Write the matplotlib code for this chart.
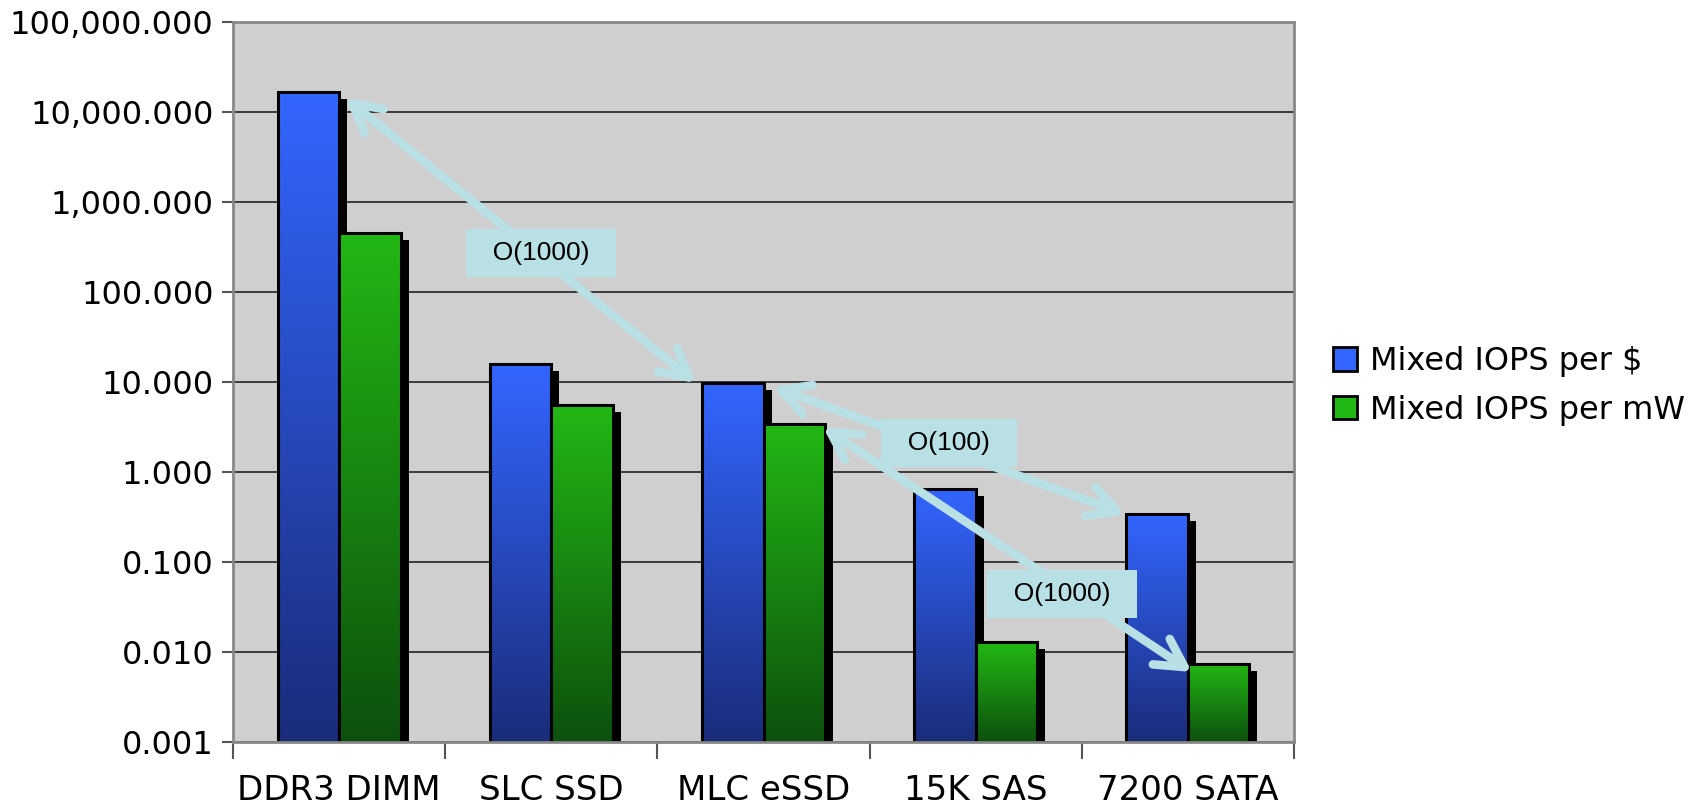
import numpy as np
import matplotlib
matplotlib.use("Agg")
import matplotlib.pyplot as plt
from matplotlib import transforms
from matplotlib.patches import Rectangle, Patch
from matplotlib.ticker import FixedLocator, FuncFormatter

# ---------------- data ----------------
categories = ["DDR3 DIMM", "SLC SSD", "MLC eSSD", "15K SAS", "7200 SATA"]
series_names = ["Mixed IOPS per $", "Mixed IOPS per mW"]
iops_per_dollar = [16500, 15.8, 9.8, 0.65, 0.34]
iops_per_mw = [455, 5.5, 3.38, 0.0129, 0.0074]
y_ticks = [0.001, 0.01, 0.1, 1, 10, 100, 1000, 10000, 100000]

# comparison arrows (category position, value)
arrow_start_x = [0.03, 2.045, 2.28]
arrow_start_y = [14400, 8.8, 3.16]
arrow_end_x = [1.682, 3.704, 4.019]
arrow_end_y = [9.75, 0.341, 0.006]
arrow_labels = ["O(1000)", "O(100)", "O(1000)"]
label_x = [0.951, 2.874, 3.407]
label_y = [271, 2.10, 0.0441]

# ---------------- styling ----------------
W, H, DPI = 1700, 807, 100
blue_top, blue_bot = "#3366FF", "#1A2C7A"
green_top, green_bot = "#22B814", "#0D500D"
arrow_color = "#B9E0E4"
bg = "#CFCFCF"
bar_w = 0.29

fig = plt.figure(figsize=(W / DPI, H / DPI), dpi=DPI)
ax = fig.add_axes([233 / W, 1 - 742 / H, (1294 - 233) / W, (742 - 22) / H])
ax.set_facecolor(bg)
ax.set_yscale("log")
ax.set_xlim(-0.5, len(categories) - 0.5)
ax.set_ylim(y_ticks[0], y_ticks[-1])

x = np.arange(len(categories))
shadow_off = transforms.ScaledTranslation(8 / DPI, -7 / DPI, fig.dpi_scale_trans)


def hex2rgb(h):
    return np.array(matplotlib.colors.to_rgb(h))


def draw_series(xpos, vals, top, bot, zbase):
    bars = ax.bar(xpos, np.array(vals) - y_ticks[0], bottom=y_ticks[0], width=bar_w,
                  facecolor="none", edgecolor="black", linewidth=2.2, zorder=zbase + 2)
    to_axes = ax.transData + ax.transAxes.inverted()
    t = np.linspace(0, 1, 256)[:, None, None]
    grad = (1 - t) * hex2rgb(top)[None, None, :] + t * hex2rgb(bot)[None, None, :]
    for r in bars:
        x0, y0 = r.get_x(), r.get_y()
        x1, y1 = x0 + r.get_width(), y0 + r.get_height()
        sh = Rectangle((x0, y0), r.get_width(), r.get_height(), facecolor="black",
                       edgecolor="none", transform=ax.transData + shadow_off, zorder=zbase)
        ax.add_patch(sh)
        (ax0, ay0), (ax1, ay1) = to_axes.transform([(x0, y0), (x1, y1)])
        ax.imshow(grad, extent=[ax0, ax1, ay0, ay1], transform=ax.transAxes,
                  aspect="auto", origin="upper", interpolation="bilinear",
                  zorder=zbase + 1)
    return bars


draw_series(x - bar_w / 2, iops_per_dollar, blue_top, blue_bot, 2)
draw_series(x + bar_w / 2, iops_per_mw, green_top, green_bot, 5)

ax.set_xlim(-0.5, len(categories) - 0.5)
ax.set_ylim(y_ticks[0], y_ticks[-1])

# arrows and labels
for sx, sy, ex, ey in zip(arrow_start_x, arrow_start_y, arrow_end_x, arrow_end_y):
    ax.annotate("", xy=(ex, ey), xytext=(sx, sy), xycoords="data", textcoords="data",
                arrowprops=dict(arrowstyle="<->,head_length=1.0,head_width=0.55",
                                mutation_scale=20, lw=6.2, color=arrow_color,
                                capstyle="round", joinstyle="round",
                                shrinkA=0, shrinkB=0),
                zorder=10, annotation_clip=False)
for lx, ly, lab in zip(label_x, label_y, arrow_labels):
    ax.text(lx, ly, "  " + lab + "  ", ha="center", va="center", fontsize=19,
            family="Liberation Sans", color="black", zorder=11,
            bbox=dict(boxstyle="square,pad=0.45", facecolor=arrow_color, edgecolor="none"))

# axes styling
ax.yaxis.set_major_locator(FixedLocator(y_ticks))
ax.yaxis.set_minor_locator(FixedLocator([]))
ax.yaxis.set_major_formatter(FuncFormatter(lambda v, p: f"{v:,.3f}"))
ax.tick_params(axis="y", which="major", length=8, width=1.5, color="#555555",
               labelsize=23, pad=6)
ax.set_xticks(x)
ax.set_xticklabels(categories)
ax.set_xticks(np.arange(-0.5, len(categories)), minor=True)
ax.tick_params(axis="x", which="major", length=0, labelsize=24.5, pad=23)
ax.tick_params(axis="x", which="minor", length=12, width=1.5, color="#555555")
ax.grid(axis="y", which="major", color="#222222", linewidth=1.2, zorder=0.5)
ax.set_axisbelow(True)
for s in ax.spines.values():
    s.set_color("#888888")
    s.set_linewidth(2)
    s.set_zorder(12)

handles = [Patch(facecolor=blue_top, edgecolor="black", linewidth=2),
           Patch(facecolor=green_top, edgecolor="black", linewidth=2)]
fig.legend(handles, series_names, loc="center left", bbox_to_anchor=(1333 / W, 1 - 386 / H),
           frameon=False, fontsize=23, handlelength=0.75, handleheight=0.75,
           handletextpad=0.4, labelspacing=0.55, borderpad=0, borderaxespad=0)

fig.savefig("out.png", dpi=DPI)
